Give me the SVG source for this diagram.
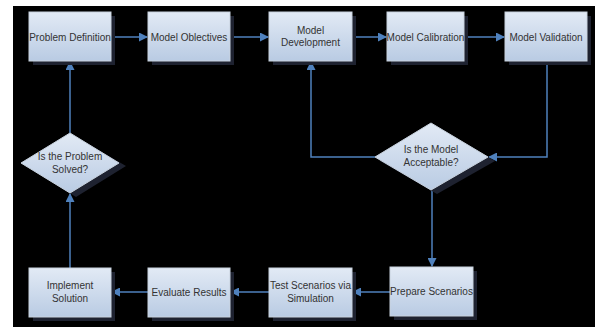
<svg xmlns="http://www.w3.org/2000/svg" width="595" height="327" viewBox="0 0 595 327">
<defs>
<linearGradient id="g" x1="0" y1="0" x2="0" y2="1">
<stop offset="0" stop-color="#e2eaf5"/>
<stop offset="1" stop-color="#b9cbe3"/>
</linearGradient>
<marker id="ah" markerWidth="9" markerHeight="9" refX="8" refY="4.5" orient="auto" markerUnits="userSpaceOnUse">
<path d="M0,0 L9,4.5 L0,9 Z" fill="#4f81bd"/>
</marker>
<style>
.box{fill:url(#g);stroke:#c8d2de;stroke-width:1}
.sh{fill:#1e2230}
.t{font-family:"Liberation Sans",Arial,sans-serif;font-size:10px;fill:#333333;text-anchor:middle}
.c{fill:none;stroke:#4f81bd;stroke-width:1.5;marker-end:url(#ah)}
</style>
</defs>
<rect x="0" y="0" width="595" height="327" fill="#ffffff"/>
<rect x="13" y="6" width="582" height="321" fill="#000000"/>
<g id="connectors">
<path class="c" d="M111,37 H147"/>
<path class="c" d="M230,37 H268"/>
<path class="c" d="M352,37 H386"/>
<path class="c" d="M464,37 H504"/>
<path class="c" d="M547,61 V157 H489"/>
<path class="c" d="M375,157 H311 V62"/>
<path class="c" d="M432,190 V266"/>
<path class="c" d="M390,292 H353"/>
<path class="c" d="M269,292 H231"/>
<path class="c" d="M148,292 H112"/>
<path class="c" d="M70,268 V194"/>
<path class="c" d="M70,133 V62"/>
</g>
<g id="n1"><rect class="sh" x="33" y="16" width="82" height="49"/><rect class="box" x="29" y="12" width="82" height="49"/><text class="t" x="70" y="40.5">Problem Definition</text></g>
<g id="n2"><rect class="sh" x="152" y="16" width="82" height="49"/><rect class="box" x="148" y="12" width="82" height="49"/><text class="t" x="189" y="40.5">Model Oblectives</text></g>
<g id="n3"><rect class="sh" x="273" y="16" width="83" height="49"/><rect class="box" x="269" y="12" width="83" height="49"/><text class="t" x="310.5" y="33.5">Model</text><text class="t" x="310.5" y="46">Development</text></g>
<g id="n4"><rect class="sh" x="391" y="16" width="77" height="49"/><rect class="box" x="387" y="12" width="77" height="49"/><text class="t" x="425.5" y="40.5">Model Calibration</text></g>
<g id="n5"><rect class="sh" x="509" y="16" width="82" height="49"/><rect class="box" x="505" y="12" width="82" height="49"/><text class="t" x="546" y="40.5">Model Validation</text></g>
<g id="d1"><path class="sh" d="M76,137 L126,166 L76,197 L26,166 Z"/><path class="box" d="M70,133 L119,163 L70,193 L21,163 Z"/><text class="t" x="70" y="160">Is the Problem</text><text class="t" x="70" y="172.5">Solved?</text></g>
<g id="d2"><path class="sh" d="M437,127 L495,161 L437,194 L380,161 Z"/><path class="box" d="M431,123 L488,157 L431,190 L375,157 Z"/><text class="t" x="431" y="153">Is the Model</text><text class="t" x="431" y="165.5">Acceptable?</text></g>
<g id="n6"><rect class="sh" x="33" y="272" width="82" height="49"/><rect class="box" x="29" y="268" width="82" height="49"/><text class="t" x="70" y="289">Implement</text><text class="t" x="70" y="301.5">Solution</text></g>
<g id="n7"><rect class="sh" x="152" y="272" width="82" height="49"/><rect class="box" x="148" y="268" width="82" height="49"/><text class="t" x="189" y="295.5">Evaluate Results</text></g>
<g id="n8"><rect class="sh" x="273" y="272" width="83" height="49"/><rect class="box" x="269" y="268" width="83" height="49"/><text class="t" x="310.5" y="289">Test Scenarios via</text><text class="t" x="310.5" y="301.5">Simulation</text></g>
<g id="n9"><rect class="sh" x="394" y="271" width="83" height="49"/><rect class="box" x="390" y="267" width="83" height="49"/><text class="t" x="431.5" y="295">Prepare Scenarios</text></g>
</svg>
